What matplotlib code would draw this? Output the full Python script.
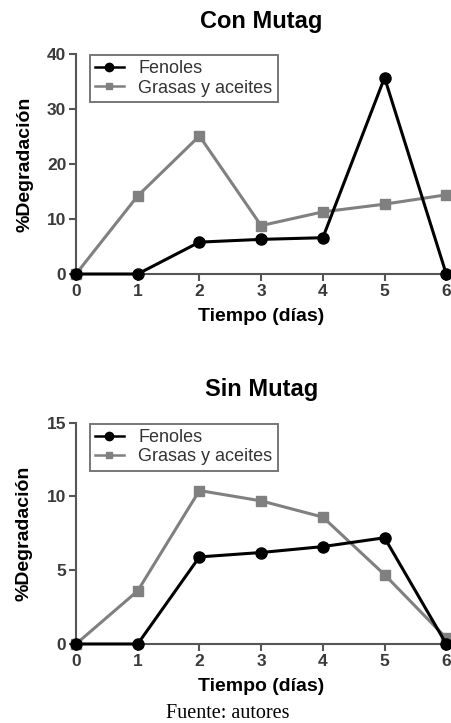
import matplotlib
matplotlib.use("Agg")
import matplotlib.pyplot as plt
from matplotlib.lines import Line2D

plt.rcParams['font.family'] = ['Liberation Sans', 'DejaVu Sans']

dias = [0, 1, 2, 3, 4, 5, 6]

# Con Mutag
con_fenoles = [0, 0, 5.8, 6.3, 6.6, 35.7, 0]
con_grasas = [0, 14.2, 25.1, 8.8, 11.3, 12.7, 14.4]

# Sin Mutag
sin_fenoles = [0, 0, 5.9, 6.2, 6.6, 7.2, 0]
sin_grasas = [0, 3.6, 10.4, 9.7, 8.6, 4.7, 0.4]

fig = plt.figure(figsize=(4.51, 7.23), dpi=100)

GRIS = '#808080'
EJE = '#555555'


def panel(rect, titulo, fen, gra, ymax, yticks):
    ax = fig.add_axes(rect)
    ax.plot(dias, gra, color=GRIS, lw=2.2, marker='s', ms=7,
            clip_on=False, zorder=3)
    ax.plot(dias, fen, color='black', lw=2.2, marker='o', ms=8,
            clip_on=False, zorder=4)
    ax.set_xlim(0, 6)
    ax.set_ylim(0, ymax)
    ax.set_xticks(dias)
    ax.set_yticks(yticks)
    for s in ['top', 'right']:
        ax.spines[s].set_visible(False)
    for s in ['left', 'bottom']:
        ax.spines[s].set_color(EJE)
        ax.spines[s].set_linewidth(1.5)
    ax.tick_params(direction='out', length=5, width=1.5, color=EJE,
                   labelsize=12.5, pad=2)
    for t in ax.get_xticklabels() + ax.get_yticklabels():
        t.set_fontweight('bold')
        t.set_color('#3a3a3a')
    ax.set_title(titulo, fontsize=17, fontweight='bold', pad=19)
    ax.set_xlabel('Tiempo (días)', fontsize=14, fontweight='bold', labelpad=7)
    ax.set_ylabel('%Degradación', fontsize=14, fontweight='bold', labelpad=10)
    handles = [
        Line2D([], [], color='black', lw=1.8, marker='o', ms=6),
        Line2D([], [], color=GRIS, lw=1.8, marker='s', ms=5),
    ]
    leg = ax.legend(handles, ['Fenoles', 'Grasas y aceites'], loc='upper left',
                    bbox_to_anchor=(0.022, 1.02), fontsize=13, frameon=True,
                    fancybox=False, borderpad=0.3, handlelength=1.6,
                    handletextpad=0.8, labelspacing=0.12, borderaxespad=0.3)
    leg.get_frame().set_edgecolor(EJE)
    leg.get_frame().set_linewidth(1.4)
    for t in leg.get_texts():
        t.set_color('#333333')
    return ax


panel([0.1685, 0.621, 0.821, 0.3043], 'Con Mutag', con_fenoles, con_grasas,
      40, [0, 10, 20, 30, 40])
panel([0.1685, 0.1093, 0.821, 0.3061], 'Sin Mutag', sin_fenoles, sin_grasas,
      15, [0, 5, 10, 15])

fig.text(0.505, 0.0, 'Fuente: autores', ha='center', va='bottom',
         fontsize=14.5, family=['Liberation Serif', 'DejaVu Serif'])

fig.savefig('out.png', dpi=100)
